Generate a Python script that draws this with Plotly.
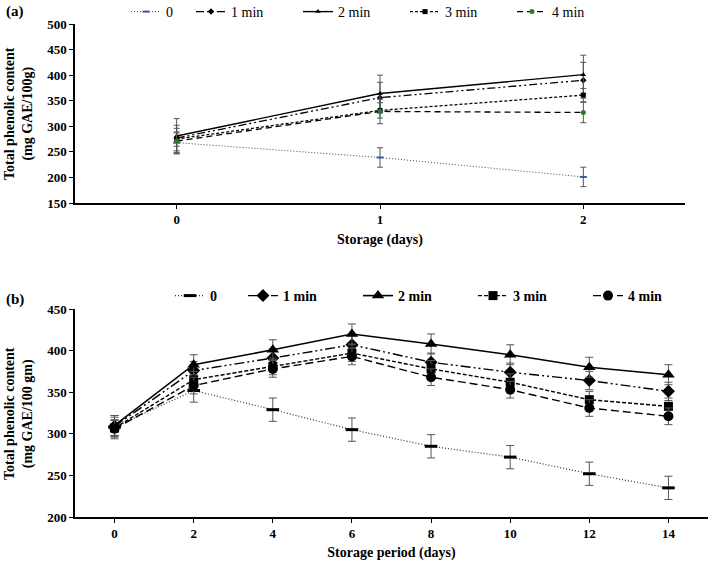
"""Total phenolic content during storage - two panels."""

import plotly.graph_objects as go

# Panel (a): storage days
days_a = [0, 1, 2]
a_0 = [268, 239, 201]
a_1min = [277, 356, 390]
a_2min = [281, 364, 401]
a_3min = [275, 331, 361]
a_4min = [271, 329, 327]
a_err_0 = [19, 19, 19]
a_err_1min = [25, 30, 35]
a_err_2min = [34, 36, 38]
a_err_3min = [14, 15, 13]
a_err_4min = [25, 24, 20]

# Panel (b): storage period (days)
days_b = [0, 2, 4, 6, 8, 10, 12, 14]
b_0 = [308, 352, 329, 305, 285, 272, 252, 235]
b_1min = [309, 376, 391, 407, 386, 374, 364, 351]
b_2min = [310, 383, 401, 420, 408, 395, 380, 371]
b_3min = [307, 365, 381, 397, 378, 362, 341, 333]
b_4min = [306, 358, 378, 393, 368, 353, 331, 321]
b_err_0 = [14, 14, 14, 14, 14, 14, 14, 14]
b_err_1min = [11, 11, 11, 11, 11, 11, 11, 11]
b_err_2min = [12, 12, 12, 12, 12, 12, 12, 12]
b_err_3min = [10, 10, 10, 10, 10, 10, 10, 10]
b_err_4min = [10, 10, 10, 10, 10, 10, 10, 10]

names = ["0", "1 min", "2 min", "3 min", "4 min"]

W, H = 709, 561
FONT = "Liberation Serif"
ERR_COLOR = "#555555"

fig = go.Figure()

# ---- panel (a) ----
series_a = [
    (a_0, a_err_0, dict(dash="1px,2px", width=1, color="#444444"),
     dict(symbol="line-ew", size=5, color="#3b5a9a", line=dict(width=2, color="#3b5a9a"))),
    (a_1min, a_err_1min, dict(dash="8px,3px,2px,3px,2px,3px", width=1.3, color="black"),
     dict(symbol="diamond", size=5, color="black")),
    (a_2min, a_err_2min, dict(dash="solid", width=1.4, color="black"),
     dict(symbol="triangle-up", size=5, color="black")),
    (a_3min, a_err_3min, dict(dash="3px,2px", width=1.3, color="black"),
     dict(symbol="square", size=5, color="black")),
    (a_4min, a_err_4min, dict(dash="6px,4px", width=1.3, color="black"),
     dict(symbol="circle", size=5, color="#2a7a2a")),
]
for name, (vals, err, line, marker) in zip(names, series_a):
    fig.add_trace(go.Scatter(
        x=days_a, y=vals, name=name, mode="lines+markers",
        line=line, marker=marker,
        error_y=dict(type="data", array=err, color=ERR_COLOR, thickness=1, width=3),
        xaxis="x", yaxis="y", legend="legend",
        legendwidth=20 if name == "0" else None,
    ))

# ---- panel (b) ----
series_b = [
    (b_0, b_err_0, dict(dash="1px,2px", width=1.2, color="#333333"),
     dict(symbol="line-ew", size=9, color="black", line=dict(width=3, color="black"))),
    (b_1min, b_err_1min, dict(dash="10px,3px,2px,3px,2px,3px", width=1.4, color="black"),
     dict(symbol="diamond", size=10, color="black")),
    (b_2min, b_err_2min, dict(dash="solid", width=1.6, color="black"),
     dict(symbol="triangle-up", size=11, color="black")),
    (b_3min, b_err_3min, dict(dash="4px,2px", width=1.4, color="black"),
     dict(symbol="square", size=9, color="black")),
    (b_4min, b_err_4min, dict(dash="8px,4px", width=1.4, color="black"),
     dict(symbol="circle", size=10, color="black")),
]
for name, (vals, err, line, marker) in zip(names, series_b):
    fig.add_trace(go.Scatter(
        x=days_b, y=vals, name=name, mode="lines+markers",
        line=line, marker=marker,
        error_y=dict(type="data", array=err, color=ERR_COLOR, thickness=1, width=4),
        xaxis="x2", yaxis="y2", legend="legend2",
        legendwidth=28 if name == "0" else None,
    ))

axis_common = dict(
    showline=True, linecolor="black", linewidth=1.5, showgrid=False, zeroline=False,
    ticks="outside", ticklen=4, tickcolor="black", automargin=False,
    tickfont=dict(family=FONT, size=13, color="black", weight="bold"),
)
title_font = dict(family=FONT, size=14, color="black", weight="bold")

fig.update_layout(
    width=W, height=H, autosize=False,
    margin=dict(l=0, r=0, t=0, b=0, autoexpand=False),
    paper_bgcolor="white", plot_bgcolor="white",
    font=dict(family=FONT, color="black"),
    xaxis=dict(axis_common, domain=[75 / W, 685 / W], range=[-0.5, 2.5],
               tickvals=days_a, anchor="y",
               title=dict(text="Storage (days)", font=title_font, standoff=8)),
    yaxis=dict(axis_common, domain=[1 - 203 / H, 1 - 24 / H], range=[150, 500],
               dtick=50, anchor="x"),
    xaxis2=dict(axis_common, domain=[75 / W, 708 / W], range=[-1, 15],
                tickvals=days_b, anchor="y2",
                title=dict(text="Storage period (days)", font=title_font, standoff=11)),
    yaxis2=dict(axis_common, domain=[1 - 517 / H, 1 - 309 / H], range=[200, 450],
                dtick=50, anchor="x2"),
    legend=dict(orientation="h", x=126 / W, y=1 - 12 / H, xanchor="left", yanchor="middle",
                font=dict(family=FONT, size=14, color="black"),
                bgcolor="rgba(0,0,0,0)", itemwidth=30, entrywidth=62),
    legend2=dict(orientation="h", x=170 / W, y=1 - 296 / H, xanchor="left", yanchor="middle",
                 font=dict(family=FONT, size=14, color="black", weight="bold"),
                 bgcolor="rgba(0,0,0,0)", itemwidth=30, entrywidth=70),
    showlegend=True,
)

fig.add_annotation(text="(a)", x=15 / W, y=1 - 12 / H, xref="paper", yref="paper",
                   xanchor="center", yanchor="middle", showarrow=False,
                   font=dict(family=FONT, size=15, color="black", weight="bold"))
fig.add_annotation(text="(b)", x=15 / W, y=1 - 299 / H, xref="paper", yref="paper",
                   xanchor="center", yanchor="middle", showarrow=False,
                   font=dict(family=FONT, size=15, color="black", weight="bold"))
fig.add_annotation(text="Total phenolic content<br>(mg GAE/100g)", textangle=-90,
                   x=19 / W, y=1 - 114 / H, xref="paper", yref="paper",
                   xanchor="center", yanchor="middle", showarrow=False, font=title_font)
fig.add_annotation(text="Total phenolic content<br>(mg GAE/100 gm)", textangle=-90,
                   x=19 / W, y=1 - 414 / H, xref="paper", yref="paper",
                   xanchor="center", yanchor="middle", showarrow=False, font=title_font)

# the page body has a default 8px margin; remove it so the figure sits at (0, 0)
fig.write_html("out.html", config={"displayModeBar": False},
               post_script="document.body.style.margin='0';")
